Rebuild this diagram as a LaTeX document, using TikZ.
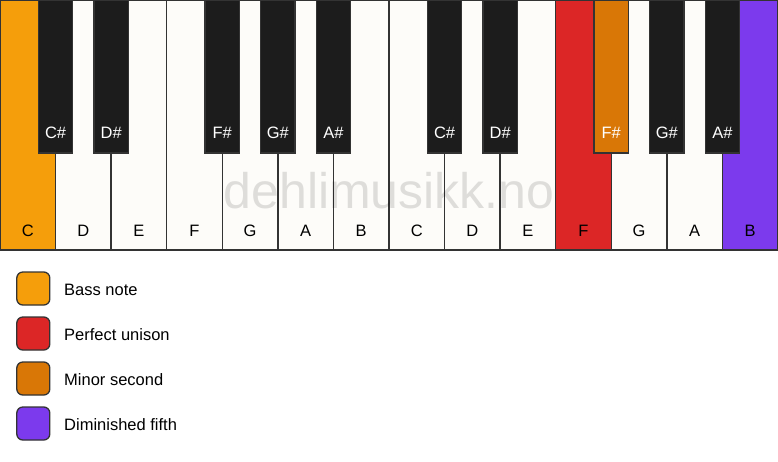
\documentclass[tikz,border=0pt]{standalone}
\usepackage{fontspec}
\setmainfont{Liberation Sans}

\definecolor{ivory}{HTML}{FDFCF9}
\definecolor{keyblack}{HTML}{1C1C1C}
\definecolor{keyline}{HTML}{333333}
\definecolor{bassnote}{HTML}{F59E0B}
\definecolor{unison}{HTML}{DC2626}
\definecolor{minorsecond}{HTML}{D97706}
\definecolor{dimfifth}{HTML}{7C3AED}

\tikzset{
    whitekey/.style={draw=keyline, line width=1.3pt},
    blackkey/.style={draw=keyline, line width=1.3pt},
    keylabel/.style={font=\fontsize{16.5}{19}\selectfont, inner sep=0pt, anchor=base},
    swatch/.style={draw=keyline, line width=1.3pt, rounded corners=6pt,
        minimum size=33pt, inner sep=0pt},
    legendtext/.style={font=\fontsize{16.5}{19}\selectfont, anchor=base west, inner sep=0pt},
}

\begin{document}
\begin{tikzpicture}[x=1pt, y=-1pt]
    \useasboundingbox (0,0) rectangle (778,461);

    % white keys
    \foreach \name/\col [count=\i from 0] in {C/bassnote, D/ivory, E/ivory, F/ivory,
            G/ivory, A/ivory, B/ivory, C/ivory, D/ivory, E/ivory, F/unison,
            G/ivory, A/ivory, B/dimfifth} {
        \draw[whitekey, fill=\col] ({\i*55.57},0) rectangle ({(\i+1)*55.57},250);
        \node[keylabel] (w\i) at ({(\i+0.5)*55.57},236.5) {\name};
    }

    % watermark
    \node[font=\fontsize{50}{60}\selectfont, text=black, opacity=0.12, inner sep=0pt,
        anchor=base] (mark) at (389,208) {dehlimusikk.no};

    % black keys
    \foreach \k/\name/\col in {1/C\#/keyblack, 2/D\#/keyblack, 4/F\#/keyblack,
            5/G\#/keyblack, 6/A\#/keyblack, 8/C\#/keyblack, 9/D\#/keyblack,
            11/F\#/minorsecond, 12/G\#/keyblack, 13/A\#/keyblack} {
        \draw[blackkey, fill=\col] ({\k*55.57-17.2},0) rectangle ({\k*55.57+17.2},153);
        \node[keylabel, text=white] (b\k) at ({\k*55.57},138.5) {\name};
    }

    % legend
    \foreach \col/\txt [count=\j from 0] in {bassnote/Bass note, unison/Perfect unison,
            minorsecond/Minor second, dimfifth/Diminished fifth} {
        \node[swatch, fill=\col] (sw\j) at (33.3,{288.5+\j*45}) {};
        \node[legendtext] (lt\j) at (64,{295.5+\j*45}) {\txt};
    }
\end{tikzpicture}
\end{document}
